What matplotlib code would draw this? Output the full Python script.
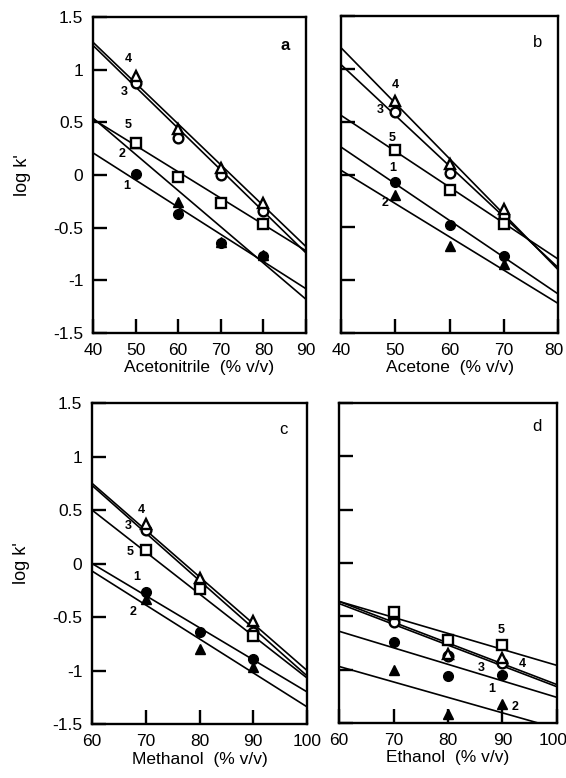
import matplotlib
matplotlib.use("Agg")
import matplotlib.pyplot as plt
import matplotlib.transforms as mtransforms

plt.rcParams['font.family'] = ['Liberation Sans', 'DejaVu Sans']

# -------------------------------------------------------
# Data (log k' vs. organic modifier %)
# series order: 1 (filled circle), 2 (filled triangle),
#               3 (open circle), 4 (open triangle), 5 (open square)
# -------------------------------------------------------
acn_pct = [50, 60, 70, 80]
acn_s1 = [0.01, -0.37, -0.65, -0.77]
acn_s2 = [0.30, -0.26, -0.64, -0.76]
acn_s3 = [0.87, 0.35, 0.00, -0.34]
acn_s4 = [0.94, 0.44, 0.07, -0.27]
acn_s5 = [0.30, -0.02, -0.27, -0.47]
acn_fit_lo = [0.21, 0.54, 1.23, 1.26, 0.53]     # fitted line at 40 %
acn_fit_hi = [-1.08, -1.18, -0.74, -0.68, -0.72]  # fitted line at 90 %

ace_pct = [50, 60, 70]
ace_s1 = [-0.07, -0.48, -0.77]
ace_s2 = [-0.19, -0.68, -0.85]
ace_s3 = [0.59, 0.01, -0.39]
ace_s4 = [0.70, 0.10, -0.33]
ace_s5 = [0.23, -0.15, -0.47]
ace_fit_lo = [0.26, 0.04, 1.04, 1.20, 0.56]      # at 40 %
ace_fit_hi = [-1.13, -1.22, -0.88, -0.90, -0.80]  # at 80 %

meoh_pct = [70, 80, 90]
meoh_s1 = [-0.27, -0.64, -0.89]
meoh_s2 = [-0.33, -0.80, -0.97]
meoh_s3 = [0.31, -0.21, -0.64]
meoh_s4 = [0.37, -0.14, -0.54]
meoh_s5 = [0.13, -0.24, -0.68]
meoh_fit_lo = [0.00, -0.07, 0.73, 0.75, 0.50]     # at 60 %
meoh_fit_hi = [-1.20, -1.34, -1.05, -1.00, -1.07]  # at 100 %

etoh_pct = [70, 80, 90]
etoh_s1 = [-0.74, -1.06, -1.05]
etoh_s2 = [-1.00, -1.42, -1.32]
etoh_s3 = [-0.55, -0.87, -0.94]
etoh_s4 = [-0.48, -0.85, -0.89]
etoh_s5 = [-0.46, -0.72, -0.77]
etoh_fit_lo = [-0.64, -0.97, -0.38, -0.36, -0.36]  # at 60 %
etoh_fit_hi = [-1.26, -1.55, -1.16, -1.14, -0.96]  # at 100 %

# series number labels: (x, y) in data units, per panel, series 1..5
acn_lbl = [(48.0, -0.10), (46.8, 0.20), (47.3, 0.79), (48.2, 1.10), (48.2, 0.47)]
ace_lbl = [(49.6, 0.06), (48.1, -0.27), (47.2, 0.61), (50.0, 0.85), (49.4, 0.35)]
meoh_lbl = [(68.4, -0.13), (67.6, -0.45), (66.7, 0.35), (69.1, 0.50), (67.1, 0.11)]
etoh_lbl = [(88.1, -1.18), (92.3, -1.35), (86.2, -0.98), (93.6, -0.95), (89.7, -0.63)]

y_ticks = [1.5, 1, 0.5, 0, -0.5, -1, -1.5]
y_ticklabels = ["1.5", "1", "0.5", "0", "-0.5", "-1", "-1.5"]

MARKERS = [
    dict(marker='o', mfc='black', mec='black', ms=7),
    dict(marker='^', mfc='black', mec='black', ms=7.5),
    dict(marker='o', mfc='white', mec='black', ms=7, mew=1.7),
    dict(marker='^', mfc='white', mec='black', ms=7.5, mew=1.7),
    dict(marker='s', mfc='white', mec='black', ms=7, mew=1.7),
]

FS = 12.5


def draw_panel(ax, pct, series, fit_lo, fit_hi, xlim, xticks, labels,
               letter, letter_xy, xlabel, show_y):
    # regression lines first, markers on top
    for lo, hi in zip(fit_lo, fit_hi):
        ax.plot(xlim, [lo, hi], color='black', lw=1.2, zorder=2)
    for vals, mk in zip(series, MARKERS):
        ax.plot(pct, vals, ls='none', zorder=3, **mk)
    for i, (lx, ly) in enumerate(labels):
        ax.text(lx, ly, str(i + 1), fontsize=9, fontweight='bold',
                ha='center', va='center', zorder=4)
    ax.text(letter_xy[0], letter_xy[1], letter, fontsize=12,
            ha='center', va='center')

    ax.set_xlim(xlim)
    ax.set_ylim(-1.5, 1.5)
    ax.set_xticks(xticks)
    ax.set_yticks(y_ticks)
    if show_y:
        ax.set_yticklabels(y_ticklabels)
        ax.set_ylabel("log k'", fontsize=13, labelpad=16)
    else:
        ax.set_yticklabels([])
    ax.set_xlabel(xlabel, fontsize=FS, labelpad=2)
    ax.tick_params(direction='in', length=10, width=1.7, labelsize=FS,
                   pad=7, top=False, right=False)
    for sp in ax.spines.values():
        sp.set_linewidth(1.7)


fig = plt.figure(figsize=(5.66, 7.78), dpi=100)
ax_a = fig.add_axes([0.1643, 0.5720, 0.3763, 0.4062])
ax_b = fig.add_axes([0.6025, 0.5720, 0.3834, 0.4074])
ax_c = fig.add_axes([0.1625, 0.0694, 0.3800, 0.4126])
ax_d = fig.add_axes([0.5990, 0.0707, 0.3850, 0.4113])

draw_panel(ax_a, acn_pct, [acn_s1, acn_s2, acn_s3, acn_s4, acn_s5],
           acn_fit_lo, acn_fit_hi, (40, 90), [40, 50, 60, 70, 80, 90],
           acn_lbl, 'a', (85.2, 1.23), "Acetonitrile  (% v/v)", True)
ax_a.texts[-1].set_fontweight('bold')

draw_panel(ax_b, ace_pct, [ace_s1, ace_s2, ace_s3, ace_s4, ace_s5],
           ace_fit_lo, ace_fit_hi, (40, 80), [40, 50, 60, 70, 80],
           ace_lbl, 'b', (76.2, 1.25), "Acetone  (% v/v)", False)

draw_panel(ax_c, meoh_pct, [meoh_s1, meoh_s2, meoh_s3, meoh_s4, meoh_s5],
           meoh_fit_lo, meoh_fit_hi, (60, 100), [60, 70, 80, 90, 100],
           meoh_lbl, 'c', (95.6, 1.25), "Methanol  (% v/v)", True)

draw_panel(ax_d, etoh_pct, [etoh_s1, etoh_s2, etoh_s3, etoh_s4, etoh_s5],
           etoh_fit_lo, etoh_fit_hi, (60, 100), [60, 70, 80, 90, 100],
           etoh_lbl, 'd', (96.3, 1.28), "Ethanol  (% v/v)", False)

# keep the last tick labels of the right-hand panels inside the figure
shift = mtransforms.ScaledTranslation(-4 / 100, 0, fig.dpi_scale_trans)
for ax in (ax_b, ax_d):
    lab = ax.get_xticklabels()[-1]
    lab.set_transform(lab.get_transform() + shift)

fig.savefig("out.png", dpi=100)
